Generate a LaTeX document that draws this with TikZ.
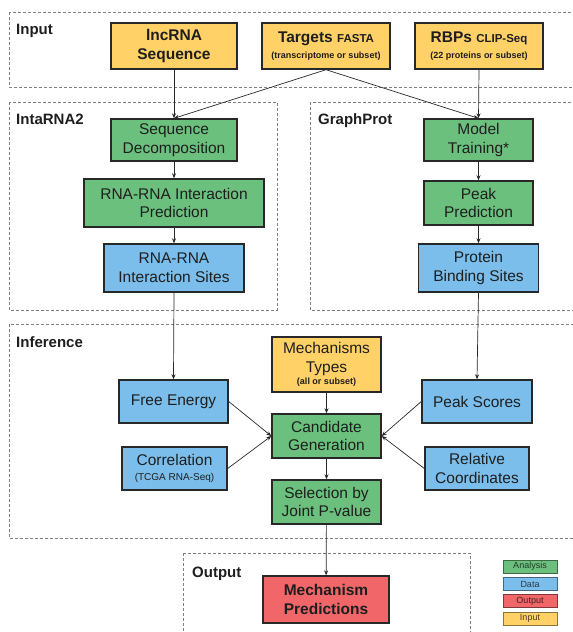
\documentclass[tikz,border=0pt]{standalone}
\usepackage{fontspec}
\setmainfont{Liberation Sans}
\usetikzlibrary{arrows.meta}

\definecolor{anagreen}{RGB}{108,192,126}
\definecolor{datablue}{RGB}{123,190,235}
\definecolor{outred}{RGB}{240,102,105}
\definecolor{inyellow}{RGB}{255,209,102}
\definecolor{boxline}{RGB}{40,40,40}
\definecolor{txt}{RGB}{30,30,30}

\tikzset{
  box/.style={draw=boxline,line width=1.4pt,align=center,inner sep=0pt,text=txt,
    font=\fontsize{15.5}{18.6}\selectfont},
  frame/.style={draw=gray,line width=0.8pt,dash pattern=on 3pt off 2pt},
  title/.style={inner sep=0pt,anchor=base west,text=txt,font=\fontsize{15}{18}\selectfont\bfseries},
  flow/.style={draw=boxline,line width=0.7pt,-{Stealth[length=5pt,width=4pt]}},
  key/.style={fill=#1,draw=#1!55!black,text=#1!30!black}
}
\newcommand{\smallnote}[1]{{\fontsize{9}{10}\selectfont\bfseries #1}}

\begin{document}
\begin{tikzpicture}[x=1pt,y=-1pt]
  \useasboundingbox (0,0) rectangle (573,632);

  % dashed frames
  \draw[frame] (9,12) rectangle (580,87);
  \draw[frame] (9,102) rectangle (277,310);
  \draw[frame] (310,102) rectangle (580,310);
  \draw[frame] (9,324) rectangle (580,538);
  \draw[frame] (183,553) rectangle (470,640);

  \node[title] (tin)  at (16,34)  {Input};
  \node[title] (tint) at (16,124) {IntaRNA2};
  \node[title] (tgp)  at (318,124) {GraphProt};
  \node[title] (tinf) at (16,347) {Inference};
  \node[title] (tout) at (192,577) {Output};

  % input
  \begin{scope}[every node/.style={box,fill=inyellow,minimum height=46pt,
      font=\fontsize{15.5}{18.6}\selectfont\bfseries}]
    \node[minimum width=126pt] (lnc) at (174,46) {lncRNA\\Sequence};
    \node[minimum width=128pt] (tgt) at (326,46)
      {Targets {\fontsize{11.5}{12}\selectfont FASTA}\\[-3pt]\smallnote{(transcriptome or subset)}};
    \node[minimum width=128pt] (rbp) at (479,46)
      {RBPs {\fontsize{11.5}{12}\selectfont CLIP-Seq}\\[-3pt]\smallnote{(22 proteins or subset)}};
  \end{scope}

  % intarna2 and graphprot
  \begin{scope}[every node/.style={box,fill=anagreen}]
    \node[minimum width=126pt,minimum height=42pt] (seq)   at (174,140)   {Sequence\\Decomposition};
    \node[minimum width=180pt,minimum height=48pt] (rri)   at (174,203)   {RNA-RNA Interaction\\Prediction};
    \node[minimum width=109pt,minimum height=42pt] (train) at (478.5,140) {Model\\Training*};
    \node[minimum width=109pt,minimum height=44pt] (peak)  at (478.5,203) {Peak\\Prediction};
  \end{scope}
  \begin{scope}[every node/.style={box,fill=datablue,minimum height=48pt}]
    \node[minimum width=140pt] (site) at (174,268) {RNA-RNA\\Interaction Sites};
    \node[minimum width=120pt] (bind) at (478.5,268) {Protein\\Binding Sites};
  \end{scope}

  % inference
  \node[box,fill=inyellow,minimum width=109pt,minimum height=55pt] (mech) at (326.5,364.5)
    {Mechanisms\\Types\\[-6pt]\smallnote{(all or subset)}};
  \begin{scope}[every node/.style={box,fill=datablue,minimum height=43pt}]
    \node[minimum width=109pt] (free)  at (173.5,401.5) {Free Energy};
    \node[minimum width=110pt] (score) at (477,401.5)   {Peak Scores};
    \node[minimum width=105pt] (corr)  at (174.5,468.5)
      {Correlation\\[-4pt]{\fontsize{10}{11}\selectfont (TCGA RNA-Seq)}};
    \node[minimum width=104pt] (rel)   at (477,468.5)   {Relative\\Coordinates};
  \end{scope}
  \begin{scope}[every node/.style={box,fill=anagreen,minimum width=109pt,minimum height=44pt}]
    \node (cand) at (326.5,436) {Candidate\\Generation};
    \node (sel)  at (326.5,502) {Selection by\\Joint P-value};
  \end{scope}

  % output
  \node[box,fill=outred,minimum width=126pt,minimum height=47pt,
    font=\fontsize{15.5}{18.6}\selectfont\bfseries] (res) at (326,599.5) {Mechanism\\Predictions};

  % legend
  \begin{scope}[every node/.style={line width=1pt,minimum width=54pt,
      minimum height=13pt,inner sep=0pt,font=\fontsize{9}{10}\selectfont}]
    \node[key=anagreen] (lana) at (530,566.5) {Analysis};
    \node[key=datablue] (ldat) at (530,584)   {Data};
    \node[key=outred]   (lout) at (530,601)   {Output};
    \node[key=inyellow] (linp) at (530,618.5) {Input};
  \end{scope}

  % connectors
  \begin{scope}[every edge/.style={flow}]
    \path (lnc.south)  edge (seq.north);
    \path (tgt.south)  edge (seq.north);
    \path (tgt.south)  edge (train.north);
    \path (rbp.south)  edge (train.north);
    \path (seq)   edge (rri);
    \path (rri)   edge (site);
    \path (train) edge (peak);
    \path (peak)  edge (bind);
    \path (site.south) edge (free.north);
    \path (bind.south) edge (score.north);
    \path (free.east)  edge (cand.west);
    \path (corr.east)  edge (cand.west);
    \path (score.west) edge (cand.east);
    \path (rel.west)   edge (cand.east);
    \path (mech) edge (cand);
    \path (cand) edge (sel);
    \path (sel)  edge (res);
  \end{scope}

\end{tikzpicture}
\end{document}
